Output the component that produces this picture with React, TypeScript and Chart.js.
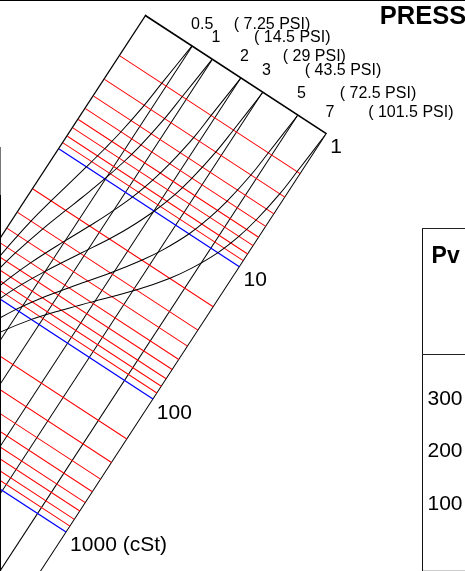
import React, { useEffect, useRef } from 'react';
import { Chart, LinearScale, registerables } from 'chart.js';

// ---------- data ----------
const PRESSURE_BAR = [0.5, 1, 2, 3, 5, 7];
const PSI_LABELS = ['( 7.25 PSI)', '( 14.5 PSI)', '( 29 PSI)', '( 43.5 PSI)', '( 72.5 PSI)', '( 101.5 PSI)'];
const VISC_TICKS = [2, 3, 4, 5, 6, 7, 8, 9, 10, 20, 30, 40, 50, 60, 70, 80, 90, 100, 200, 300, 400, 500, 600, 700, 800, 900, 1000];
const VISC_DECADES = [1, 10, 100, 1000];
const VISC_LABELS = ['1', '10', '100', '1000 (cSt)'];
const VISCOSITY_CST = [1, 2, 3, 5, 7, 10, 15, 20, 30, 50, 70, 100, 150, 200, 300, 500, 1000];
const CURVE_05 = [0.5, 0.421, 0.38, 0.309, 0.253, 0.193, 0.131, 0.0944, 0.0563, 0.0292, 0.0189, 0.0122, 0.0075, 0.0055, 0.0035, 0.0025, 0.002];
const CURVE_1 = [1, 0.891, 0.829, 0.715, 0.615, 0.496, 0.358, 0.269, 0.167, 0.0845, 0.0526, 0.0318, 0.0183, 0.0127, 0.007, 0.004, 0.0025];
const CURVE_2 = [2, 1.85, 1.77, 1.59, 1.43, 1.22, 0.941, 0.743, 0.492, 0.26, 0.162, 0.0946, 0.0514, 0.0337, 0.019, 0.01, 0.004];
const CURVE_3 = [3, 2.83, 2.72, 2.5, 2.3, 2.01, 1.62, 1.32, 0.908, 0.501, 0.317, 0.187, 0.1, 0.0638, 0.0345, 0.0168, 0.0075];
const CURVE_5 = [5, 4.78, 4.65, 4.36, 4.08, 3.69, 3.1, 2.62, 1.92, 1.13, 0.735, 0.443, 0.238, 0.15, 0.0783, 0.0353, 0.0135];
const CURVE_7 = [7, 6.77, 6.62, 6.28, 5.95, 5.46, 4.71, 4.08, 3.1, 1.91, 1.28, 0.786, 0.427, 0.27, 0.139, 0.0605, 0.0213];
const CURVES = [CURVE_05, CURVE_1, CURVE_2, CURVE_3, CURVE_5, CURVE_7];
const PV_VALUES = [300, 200, 100];

// ---------- layout constants ----------
const FONT = '"Liberation Sans", Arial, Helvetica, sans-serif';
const ANGLE = 33.15;
const ORIGIN_X = 145.7;
const ORIGIN_Y = 16;
const CANVAS_W = 465;
const CANVAS_H = 754;
// chart area (in the un-rotated chart space) is 215.5 x 634
const PAD = { left: 10, top: 110, right: CANVAS_W - 10 - 215.5, bottom: 10 };

class SqrtScale extends LinearScale {
  static id = 'sqrt';
  static defaults = { ticks: { callback: (v: number) => String(v) } };
  getPixelForValue(value: number) {
    const lo = Math.sqrt(this.min);
    const hi = Math.sqrt(this.max);
    return this.getPixelForDecimal((Math.sqrt(Math.max(value, 0)) - lo) / (hi - lo));
  }
  getValueForPixel(pixel: number) {
    const lo = Math.sqrt(this.min);
    const hi = Math.sqrt(this.max);
    const s = lo + this.getDecimalForPixel(pixel) * (hi - lo);
    return s * s;
  }
}

Chart.register(...registerables, SqrtScale as any);

// Rotates the whole chart drawing so that the plot's top-left corner sits at ORIGIN,
// then writes upright labels anchored to the axis values.
const rotatedNomogram = {
  id: 'rotatedNomogram',
  beforeDraw(chart: any) {
    const { ctx, chartArea } = chart;
    ctx.save();
    ctx.translate(ORIGIN_X, ORIGIN_Y);
    ctx.rotate((ANGLE * Math.PI) / 180);
    ctx.translate(-chartArea.left, -chartArea.top);
  },
  afterDraw(chart: any) {
    const { ctx, chartArea, scales } = chart;
    const rot = (-ANGLE * Math.PI) / 180;
    const put = (x: number, y: number, dx: number, dy: number, text: string, font: string) => {
      ctx.save();
      ctx.translate(x, y);
      ctx.rotate(rot);
      ctx.font = font;
      ctx.fillStyle = '#000';
      ctx.textAlign = 'left';
      ctx.textBaseline = 'alphabetic';
      ctx.fillText(text, dx, dy);
      ctx.restore();
    };
    PRESSURE_BAR.forEach((p, i) => {
      const x = scales.x.getPixelForValue(p);
      put(x, chartArea.top, -0.7, -17, String(p), `16px ${FONT}`);
      put(x, chartArea.top, 42, -17, PSI_LABELS[i], `16px ${FONT}`);
    });
    VISC_DECADES.forEach((v, i) => {
      const y = scales.y.getPixelForValue(v);
      put(chartArea.right, y, 4, 19.5, VISC_LABELS[i], `21px ${FONT}`);
    });
    ctx.restore();
  },
};

export default function App() {
  const ref = useRef<HTMLCanvasElement>(null);

  useEffect(() => {
    const canvas = ref.current!;
    const chart = new Chart(canvas, {
      type: 'scatter',
      data: {
        datasets: CURVES.map((curve) => ({
          data: VISCOSITY_CST.map((v, i) => ({ x: curve[i], y: v })),
          showLine: true,
          borderColor: '#000',
          borderWidth: 1,
          pointRadius: 0,
          tension: 0.4,
          fill: false,
        })),
      },
      options: {
        responsive: false,
        animation: false,
        events: [],
        layout: { padding: PAD },
        plugins: { legend: { display: false }, tooltip: { enabled: false } },
        scales: {
          x: {
            type: 'sqrt' as any,
            position: 'top',
            min: 0.00175,
            max: 7,
            afterBuildTicks: (scale: any) => {
              scale.ticks = PRESSURE_BAR.map((v) => ({ value: v }));
            },
            ticks: { display: false },
            grid: { color: '#000', lineWidth: 1, drawTicks: false },
            border: { display: true, color: '#000', width: 1.6 },
          },
          y: {
            type: 'logarithmic',
            position: 'left',
            reverse: true,
            min: 1,
            max: 10000,
            afterBuildTicks: (scale: any) => {
              scale.ticks = VISC_TICKS.map((v) => ({ value: v }));
            },
            ticks: { display: false },
            grid: {
              drawTicks: false,
              color: (c: any) => (VISC_DECADES.includes(c.tick?.value) ? '#0000ff' : '#ff0000'),
              lineWidth: (c: any) => (VISC_DECADES.includes(c.tick?.value) ? 1.3 : 1),
            },
            border: { display: true, color: '#000', width: 1.2 },
          },
        },
      } as any,
      plugins: [rotatedNomogram],
    });
    return () => chart.destroy();
  }, []);

  const abs = (s: React.CSSProperties): React.CSSProperties => ({ position: 'absolute', ...s });

  return (
    <div
      style={{
        position: 'fixed',
        left: 0,
        top: 0,
        width: 465,
        height: 571,
        overflow: 'hidden',
        background: '#fff',
        fontFamily: FONT,
        color: '#000',
      }}
    >
      <canvas
        ref={ref}
        width={CANVAS_W}
        height={CANVAS_H}
        style={{ position: 'absolute', left: 0, top: 0, width: CANVAS_W, height: CANVAS_H }}
      />
      {/* outer frame */}
      <div style={abs({ left: 0, top: 0, width: 465, height: 1, background: '#000' })} />
      <div style={abs({ left: 0, top: 147, width: 1, height: 48, background: '#777' })} />
      <div style={abs({ left: 0, top: 195, width: 1, height: 376, background: '#000' })} />
      {/* title */}
      <div style={abs({ left: 379.8, top: 3.4, fontSize: 25.5, fontWeight: 'bold', lineHeight: 1, whiteSpace: 'nowrap' })}>
        PRESSURE
      </div>
      {/* Pv table */}
      <div style={abs({ left: 421.5, top: 228, width: 1.6, height: 343, background: '#111' })} />
      <div style={abs({ left: 422, top: 228, width: 43, height: 1, background: '#222' })} />
      <div style={abs({ left: 422, top: 354, width: 43, height: 1, background: '#222' })} />
      <div style={abs({ left: 423, top: 570, width: 42, height: 1, background: '#ccc' })} />
      <div style={abs({ left: 431.6, top: 243.8, fontSize: 23, fontWeight: 'bold', lineHeight: 1, whiteSpace: 'nowrap' })}>Pv</div>
      {PV_VALUES.map((v, i) => (
        <div
          key={v}
          style={abs({ left: 427.5, top: [387.2, 438.9, 492.2][i], fontSize: 21, lineHeight: 1, whiteSpace: 'nowrap' })}
        >
          {v}
        </div>
      ))}
    </div>
  );
}
